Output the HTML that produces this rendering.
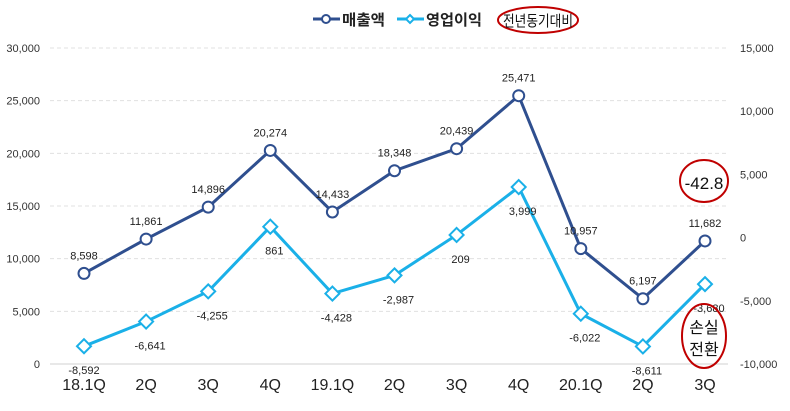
<!DOCTYPE html>
<html><head><meta charset="utf-8"><style>
body{margin:0;background:#fff;width:790px;height:406px;overflow:hidden;font-family:"Liberation Sans","Noto Sans CJK KR",sans-serif}
svg text{font-family:"Liberation Sans","Noto Sans CJK KR",sans-serif}
</style></head><body>
<svg id="chart" width="790" height="406"></svg>
<script>
const categories=["18.1Q","2Q","3Q","4Q","19.1Q","2Q","3Q","4Q","20.1Q","2Q","3Q"];
const sales=[8598,11861,14896,20274,14433,18348,20439,25471,10957,6197,11682];
const profit=[-8592,-6641,-4255,861,-4428,-2987,209,3999,-6022,-8611,-3680];
const leftTicks=[0,5000,10000,15000,20000,25000,30000];
const rightTicks=[-10000,-5000,0,5000,10000,15000];
const NS="http://www.w3.org/2000/svg";
const svg=document.getElementById('chart');
const x0=84,dx=62.1,yB=364,yT=48;
const xs=i=>x0+i*dx;
const yL=v=>yB-(v/30000)*(yB-yT);
const yR=v=>yB-((v+10000)/25000)*(yB-yT);
const fmt=v=>v.toLocaleString('en-US');
function el(t,a,txt){const e=document.createElementNS(NS,t);for(const k in a)e.setAttribute(k,a[k]);if(txt!==undefined)e.textContent=txt;svg.appendChild(e);return e;}
leftTicks.forEach(v=>{
  const g=el('line',{x1:50,x2:728,y1:yL(v),y2:yL(v),stroke:v===0?'#d0d0d0':'#e0e0e0','stroke-dasharray':v===0?'':'4,3'});
  
  
  const t=el('text',{x:40,y:yL(v)+4,'text-anchor':'end','font-size':11,fill:'#333'},fmt(v));
  
  
});
rightTicks.forEach(v=>{
  const t=el('text',{x:740,y:yR(v)+4,'font-size':11,fill:'#333'},fmt(v));
  
  
});
categories.forEach((c,i)=>{
  const t=el('text',{x:xs(i),y:390,'text-anchor':'middle','font-size':16,fill:'#222'},c);
  
  
});
const sp=el('polyline',{points:sales.map((v,i)=>xs(i)+','+yL(v)).join(' '),fill:'none',stroke:'#2f4f8f','stroke-width':3});


const pp=el('polyline',{points:profit.map((v,i)=>xs(i)+','+yR(v)).join(' '),fill:'none',stroke:'#1ab0e8','stroke-width':3});


sales.forEach((v,i)=>{
  const c=el('circle',{cx:xs(i),cy:yL(v),r:5.5,fill:'#fff',stroke:'#2f4f8f','stroke-width':2});
  
  
  const t=el('text',{x:xs(i),y:yL(v)-14,'text-anchor':'middle','font-size':11,fill:'#222'},fmt(v));
  
  
});
profit.forEach((v,i)=>{
  const x=xs(i),y=yR(v);
  const d=el('polygon',{points:`${x},${y-7} ${x+7},${y} ${x},${y+7} ${x-7},${y}`,fill:'#fff',stroke:'#1ab0e8','stroke-width':2});
  
  
  const t=el('text',{x:x+(i===0?0:4),y:y+28,'text-anchor':'middle','font-size':11,fill:'#222'},fmt(v));
  
  
});
</script>
<svg width="790" height="406" style="position:absolute;left:0;top:0">
<g>
<line x1="313" y1="19" x2="340" y2="19" stroke="#2f4f8f" stroke-width="3"/>
<circle cx="326" cy="19" r="4" fill="#fff" stroke="#2f4f8f" stroke-width="2"/>
<text x="342" y="25" font-size="15" font-weight="bold" fill="#222" textLength="43" lengthAdjust="spacingAndGlyphs">매출액</text>
<line x1="397" y1="19" x2="424" y2="19" stroke="#1ab0e8" stroke-width="3"/>
<polygon points="410,15 414,19 410,23 406,19" fill="#fff" stroke="#1ab0e8" stroke-width="2"/>
<text x="426" y="25" font-size="15" font-weight="bold" fill="#222" textLength="56" lengthAdjust="spacingAndGlyphs">영업이익</text>
<ellipse cx="538" cy="20" rx="40" ry="13" fill="none" stroke="#c00000" stroke-width="2"/>
<text x="538" y="26" font-size="15" text-anchor="middle" fill="#111" textLength="70" lengthAdjust="spacingAndGlyphs">전년동기대비</text>
</g>
<g>
<ellipse cx="704" cy="181" rx="24" ry="21" fill="none" stroke="#c00000" stroke-width="2"/>
<text x="704" y="189" font-size="17" text-anchor="middle" fill="#111">-42.8</text>
<ellipse cx="704" cy="336" rx="22" ry="32" fill="none" stroke="#c00000" stroke-width="2"/>
<text x="704" y="333" font-size="16" text-anchor="middle" fill="#111">손실</text>
<text x="704" y="355" font-size="16" text-anchor="middle" fill="#111">전환</text>
</g>
</svg>
</body></html>
